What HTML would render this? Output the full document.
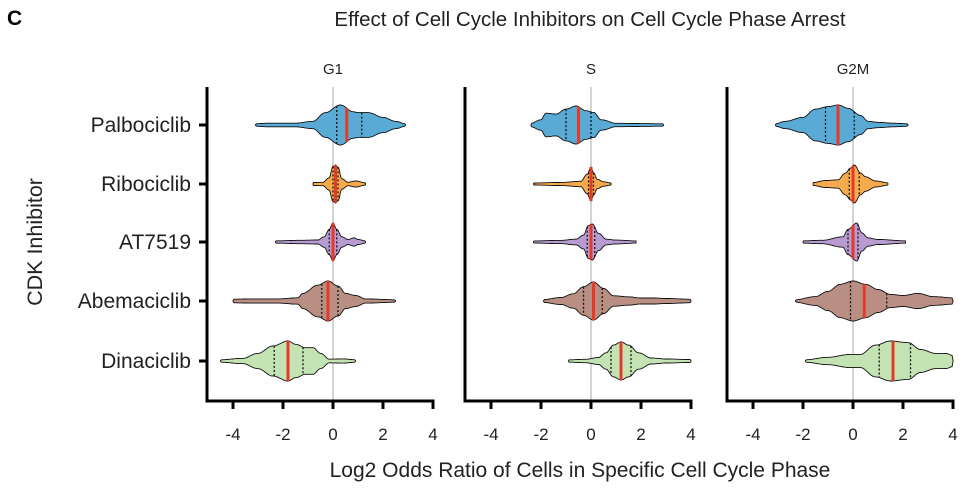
<!DOCTYPE html>
<html><head><meta charset="utf-8"><style>
body{margin:0;background:#fff;}
svg{display:block;font-family:"Liberation Sans",Arial,sans-serif;}
</style></head><body>
<svg id="chart" width="970" height="495" viewBox="0 0 970 495">
<text x="7" y="25" font-size="21" font-weight="bold">C</text>
<text x="590" y="26" font-size="20.5" text-anchor="middle" fill="#222">Effect of Cell Cycle Inhibitors on Cell Cycle Phase Arrest</text>
<text x="580" y="477" font-size="21" text-anchor="middle" fill="#222">Log2 Odds Ratio of Cells in Specific Cell Cycle Phase</text>
<text transform="translate(42,242) rotate(-90)" font-size="21.5" text-anchor="middle" fill="#222">CDK Inhibitor</text>
<g id="plot"></g>
</svg>
<script>
const drugs=["Palbociclib","Ribociclib","AT7519","Abemaciclib","Dinaciclib"];
const phases=["G1","S","G2M"];
const xTicks=[-4,-2,0,2,4];
const colors=["#5aaad6","#f5aa4c","#b89bd0","#b98f84","#c4e3b2"];
const g1X=[[-3.1,-2.6,-1.5,-0.8,-0.3,0.3,0.8,1.0,1.4,2.0,2.5,2.9],[-0.8,-0.4,-0.15,0,0.1,0.2,0.35,0.6,0.9,1.3],[-2.3,-1.2,-0.6,-0.35,-0.15,0,0.15,0.35,0.6,0.85,1.0,1.3],[-4.0,-3.2,-2.2,-1.4,-1.2,-0.6,-0.2,0.2,0.5,0.9,1.3,2.5],[-4.5,-3.6,-3.0,-2.4,-1.8,-1.5,-1.1,-0.8,-0.5,-0.15,0.4,0.9]];
const g1W=[[0.03,0.05,0.05,0.12,0.55,1.0,0.6,0.55,0.55,0.3,0.12,0.03],[0.04,0.05,0.25,0.9,1.0,0.85,0.2,0.05,0.1,0.03],[0.03,0.05,0.06,0.2,0.6,1.0,0.6,0.2,0.08,0.15,0.08,0.03],[0.05,0.06,0.06,0.1,0.3,0.75,1.0,0.7,0.3,0.2,0.06,0.03],[0.03,0.08,0.3,0.7,1.0,0.8,0.6,0.6,0.3,0.05,0.06,0.03]];
const sX=[[-2.4,-2.0,-1.8,-1.4,-1.0,-0.6,-0.2,0.1,0.4,1.0,2.0,2.9],[-2.3,-1.2,-0.4,-0.15,0,0.1,0.25,0.5,0.8],[-2.3,-1.2,-0.6,-0.3,-0.1,0.05,0.3,0.6,1.0,1.8],[-1.9,-1.2,-0.7,-0.3,0.1,0.5,0.9,1.5,2.0,2.5,3.0,4.0],[-0.9,-0.2,0.3,0.6,0.9,1.2,1.5,1.9,2.4,3.0,4.0]];
const sW=[[0.05,0.2,0.55,0.5,0.8,1.0,0.7,0.6,0.2,0.05,0.04,0.03],[0.03,0.05,0.1,0.5,1.0,0.6,0.2,0.08,0.03],[0.03,0.05,0.1,0.3,0.9,1.0,0.4,0.1,0.06,0.03],[0.04,0.12,0.3,0.7,1.0,0.6,0.2,0.15,0.1,0.1,0.08,0.05],[0.03,0.05,0.12,0.35,0.8,1.0,0.8,0.35,0.1,0.06,0.04]];
const g2X=[[-3.1,-2.7,-2.0,-1.5,-1.0,-0.6,-0.2,0.3,0.6,1.0,1.6,2.2],[-1.6,-1.1,-0.6,-0.3,-0.1,0.05,0.3,0.5,0.9,1.4],[-2.0,-1.2,-0.4,-0.2,0.15,0.35,0.6,1.0,2.1],[-2.3,-1.5,-1.0,-0.5,0,0.5,1.0,1.5,2.0,2.6,3.2,4.0],[-1.9,-1.0,-0.1,0.3,0.9,1.5,2.2,2.7,3.3,3.7,4.0]];
const g2W=[[0.03,0.12,0.3,0.75,0.9,1.0,0.8,0.4,0.12,0.08,0.05,0.03],[0.04,0.12,0.15,0.5,0.8,1.0,0.5,0.3,0.1,0.03],[0.03,0.05,0.2,0.6,1.0,0.4,0.15,0.08,0.03],[0.03,0.15,0.4,0.8,1.0,0.8,0.5,0.25,0.2,0.3,0.15,0.1],[0.03,0.12,0.25,0.25,0.75,1.0,0.9,0.5,0.3,0.3,0.2]];
const profX=[g1X,sX,g2X], profW=[g1W,sW,g2W];
const medians=[[0.55,0.1,0.0,-0.2,-1.8],[-0.5,0.0,0.0,0.1,1.2],[-0.6,0.0,0.0,0.45,1.6]];
const q1=[[0.15,0.0,-0.15,-0.45,-2.35],[-1.0,-0.1,-0.15,-0.3,0.8],[-1.1,-0.15,-0.2,-0.1,1.05]];
const q3=[[1.15,0.2,0.15,0.2,-1.2],[0.0,0.1,0.15,0.45,1.6],[0.05,0.25,0.2,1.35,2.3]];
const maxH=[[20,19,19,20,20],[19,17,18,19,19],[20,19,19,20,20]];

const NS="http://www.w3.org/2000/svg";
const plot=document.getElementById("plot");
const zeroX=[333,591,853], axisLeft=[207,465,727], scale=25;
const rowY=[125,184,242,301,361], axisTop=87, axisBottom=401;
function mk(tag,attrs,parent){const e=document.createElementNS(NS,tag);for(const k in attrs)e.setAttribute(k,attrs[k]);(parent||plot).appendChild(e);return e;}
function xPos(p,v){return zeroX[p]+v*scale;}
function yPos(i){return rowY[i];}
function widthAt(xs,ws,v){if(v<=xs[0]||v>=xs[xs.length-1])return 0;for(let k=0;k<xs.length-1;k++){if(v>=xs[k]&&v<=xs[k+1]){const t=(v-xs[k])/(xs[k+1]-xs[k]);const s=(1-Math.cos(Math.PI*t))/2;return Math.pow(ws[k]+(ws[k+1]-ws[k])*s,0.8);}}return 0;}
function linePath(pts){let d="M"+pts[0][0].toFixed(1)+","+pts[0][1].toFixed(1);for(let i=1;i<pts.length;i++)d+="L"+pts[i][0].toFixed(1)+","+pts[i][1].toFixed(1);return d;}

drugs.forEach((d,i)=>{
  const t=mk("text",{x:191,y:yPos(i)+7,"font-size":21,"text-anchor":"end",fill:"#222"});
  t.textContent=d;
  
  
});

phases.forEach((ph,p)=>{
  const g=mk("g",{});
  
  
  const lab=mk("text",{x:zeroX[p],y:74,"font-size":15,"text-anchor":"middle",fill:"#222"},g);
  lab.textContent=ph;
  
  
  const zl=mk("line",{x1:xPos(p,0),x2:xPos(p,0),y1:axisTop,y2:axisBottom,stroke:"#aaa","stroke-width":1},g);
  
  
  const ya=mk("line",{x1:axisLeft[p],x2:axisLeft[p],y1:axisTop,y2:axisBottom+1.5,stroke:"#000","stroke-width":3},g);
  
  
  const xa=mk("line",{x1:axisLeft[p]-1.5,x2:xPos(p,4)+1.5,y1:axisBottom,y2:axisBottom,stroke:"#000","stroke-width":3},g);
  
  
  if(p===0){drugs.forEach((d,i)=>{
    const tk=mk("line",{x1:axisLeft[p]-8,x2:axisLeft[p],y1:yPos(i),y2:yPos(i),stroke:"#000","stroke-width":3},g);
    
    
  });}
  xTicks.forEach(v=>{
    const tk=mk("line",{x1:xPos(p,v),x2:xPos(p,v),y1:axisBottom,y2:axisBottom+8,stroke:"#000","stroke-width":3},g);
    
    
    const tl=mk("text",{x:xPos(p,v),y:440,"font-size":17,"text-anchor":"middle",fill:"#222"},g);
    tl.textContent=(v<0?"-"+Math.abs(v):String(v));
    
    
  });
  drugs.forEach((d,i)=>{
    const xs=profX[p][i], ws=profW[p][i], H=maxH[p][i], cy=yPos(i);
    const lo=xs[0], hi=xs[xs.length-1], N=160, top=[], bot=[];
    for(let k=0;k<=N;k++){const v=lo+(hi-lo)*k/N;const w=Math.max(widthAt(xs,ws,v)*H,0.4);top.push([xPos(p,v),cy-w]);bot.push([xPos(p,v),cy+w]);}
    const pts=top.concat(bot.reverse());
    const vio=mk("path",{d:linePath(pts)+"Z",fill:colors[i],stroke:"#111","stroke-width":0.9},g);
    
    
    [q1[p][i],q3[p][i]].forEach(q=>{
      const h=widthAt(xs,ws,q)*H;
      const ql=mk("line",{x1:xPos(p,q),x2:xPos(p,q),y1:cy-h,y2:cy+h,stroke:"#111","stroke-width":1.3,"stroke-dasharray":"2,2"},g);
      
      
    });
    const m=medians[p][i], mh=widthAt(xs,ws,m)*H;
    const ml=mk("line",{x1:xPos(p,m),x2:xPos(p,m),y1:cy-mh,y2:cy+mh,stroke:"#e6392a","stroke-width":3},g);
    
    
  });
});
</script>
</body></html>
